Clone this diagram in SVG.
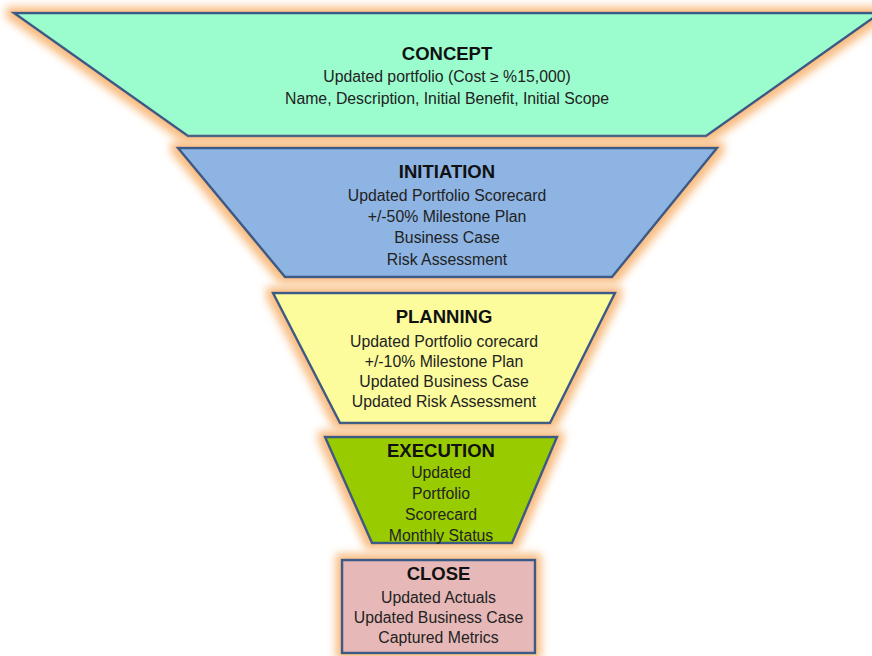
<svg xmlns="http://www.w3.org/2000/svg" width="872" height="656" viewBox="0 0 872 656">
<defs>
<filter id="glow" x="-20%" y="-30%" width="140%" height="160%">
<feMorphology in="SourceAlpha" operator="dilate" radius="5" result="d"/>
<feGaussianBlur in="d" stdDeviation="4" result="b"/>
<feFlood flood-color="#F8BC80" flood-opacity="1"/>
<feComposite in2="b" operator="in" result="g"/>
<feMerge><feMergeNode in="g"/><feMergeNode in="SourceGraphic"/></feMerge>
</filter>
</defs>
<style>
.shape{stroke:#3B5A85;stroke-width:2.5;stroke-linejoin:miter;filter:url(#glow)}
.t{font-family:"Liberation Sans",Arial,sans-serif;font-size:18.5px;font-weight:bold;fill:#111;text-anchor:middle}
.b{font-family:"Liberation Sans",Arial,sans-serif;font-size:15.8px;fill:#222;text-anchor:middle}
</style>
<rect width="872" height="656" fill="#ffffff"/>
<g id="concept">
<polygon class="shape" points="14,13 880,13 706,136 188,136" fill="#9BFDCE"/>
<text class="t" x="447" y="60">CONCEPT</text>
<text class="b" x="447" y="82">Updated portfolio (Cost ≥ %15,000)</text>
<text class="b" x="447" y="104">Name, Description, Initial Benefit, Initial Scope</text>
</g>
<g id="initiation">
<polygon class="shape" points="178,148 717,148 612,277 285,277" fill="#8DB4E2"/>
<text class="t" x="447" y="178">INITIATION</text>
<text class="b" x="447" y="201">Updated Portfolio Scorecard</text>
<text class="b" x="447" y="222">+/-50% Milestone Plan</text>
<text class="b" x="447" y="243">Business Case</text>
<text class="b" x="447" y="265">Risk Assessment</text>
</g>
<g id="planning">
<polygon class="shape" points="273,293 615,293 550,423 340,423" fill="#FCFC9C"/>
<text class="t" x="444" y="323">PLANNING</text>
<text class="b" x="444" y="347">Updated Portfolio corecard</text>
<text class="b" x="444" y="367">+/-10% Milestone Plan</text>
<text class="b" x="444" y="387">Updated Business Case</text>
<text class="b" x="444" y="407">Updated Risk Assessment</text>
</g>
<g id="execution">
<polygon class="shape" points="325,437 557,437 512,543 372,543" fill="#99CC00"/>
<text class="t" x="441" y="457">EXECUTION</text>
<text class="b" x="441" y="478">Updated</text>
<text class="b" x="441" y="499">Portfolio</text>
<text class="b" x="441" y="520">Scorecard</text>
<text class="b" x="441" y="541">Monthly Status</text>
</g>
<g id="close">
<rect class="shape" x="342" y="560" width="193" height="93" fill="#E6B9B8"/>
<text class="t" x="438.5" y="580">CLOSE</text>
<text class="b" x="438.5" y="603">Updated Actuals</text>
<text class="b" x="438.5" y="623">Updated Business Case</text>
<text class="b" x="438.5" y="643">Captured Metrics</text>
</g>
<g id="connectors"/>
</svg>
